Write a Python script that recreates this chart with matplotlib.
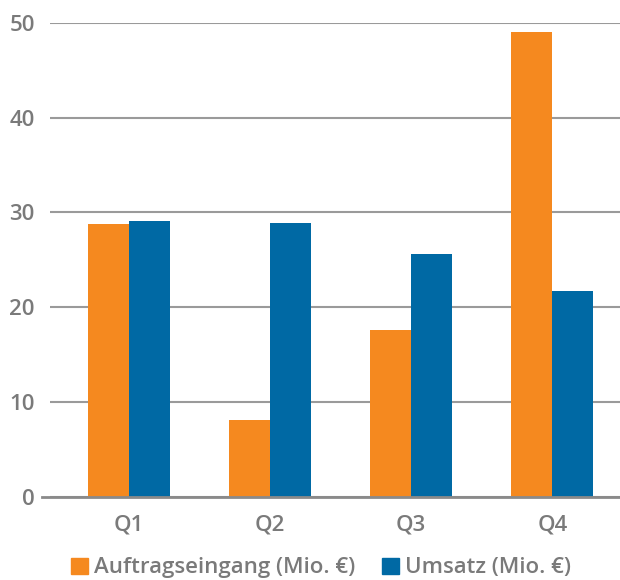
import numpy as np
import matplotlib.pyplot as plt
from matplotlib.patches import Patch

quarters = ['Q1', 'Q2', 'Q3', 'Q4']
auftrag = [28.8, 8.1, 17.6, 49.0]
umsatz = [29.1, 28.9, 25.6, 21.7]
yticks = [0, 10, 20, 30, 40, 50]

orange = '#F5891F'
blue = '#0069A4'
grey_txt = '#7a7a7a'
grey_line = '#9a9a9a'

plt.rcParams['font.family'] = ['Open Sans', 'DejaVu Sans']

fig = plt.figure(figsize=(6.2, 5.8), dpi=100)
ax = fig.add_axes([50/620, 1-496.7/580, 1-50/620, (496.7-22.7)/580])

x = np.arange(len(quarters))
w = 0.29
ax.bar(x - w/2, auftrag, w, color=orange, zorder=3)
ax.bar(x + w/2, umsatz, w, color=blue, zorder=3)

ax.set_ylim(0, 50)
ax.set_xlim(-0.56, 3.48)
ax.set_yticks(yticks)
ax.set_xticks(x)
ax.set_xticklabels(quarters)
ax.yaxis.grid(True, color=grey_line, linewidth=1.5, zorder=1)
ax.set_axisbelow(True)
for s in ax.spines.values():
    s.set_visible(False)
ax.tick_params(axis='both', length=0, colors=grey_txt, labelsize=16)
ax.tick_params(axis='y', pad=11)
ax.tick_params(axis='x', pad=13)
for lab in ax.get_xticklabels() + ax.get_yticklabels():
    lab.set_fontweight('semibold')

# baseline starts a bit left of the gridlines
fig.add_artist(plt.Line2D([42/620, 1], [1-496.7/580]*2, color='#8a8a8a', lw=2, zorder=5))

handles = [Patch(color=orange, label='Auftragseingang (Mio. €)'),
           Patch(color=blue, label='Umsatz (Mio. €)')]
leg = fig.legend(handles=handles, loc='center', bbox_to_anchor=(0.518, 1-568/580), ncol=2,
                 frameon=False, handlelength=0.75, handleheight=0.75,
                 handletextpad=0.3, columnspacing=1.2,
                 prop={'weight': 'semibold', 'size': 16})
for t in leg.get_texts():
    t.set_color(grey_txt)

fig.savefig('out.png', dpi=100)
